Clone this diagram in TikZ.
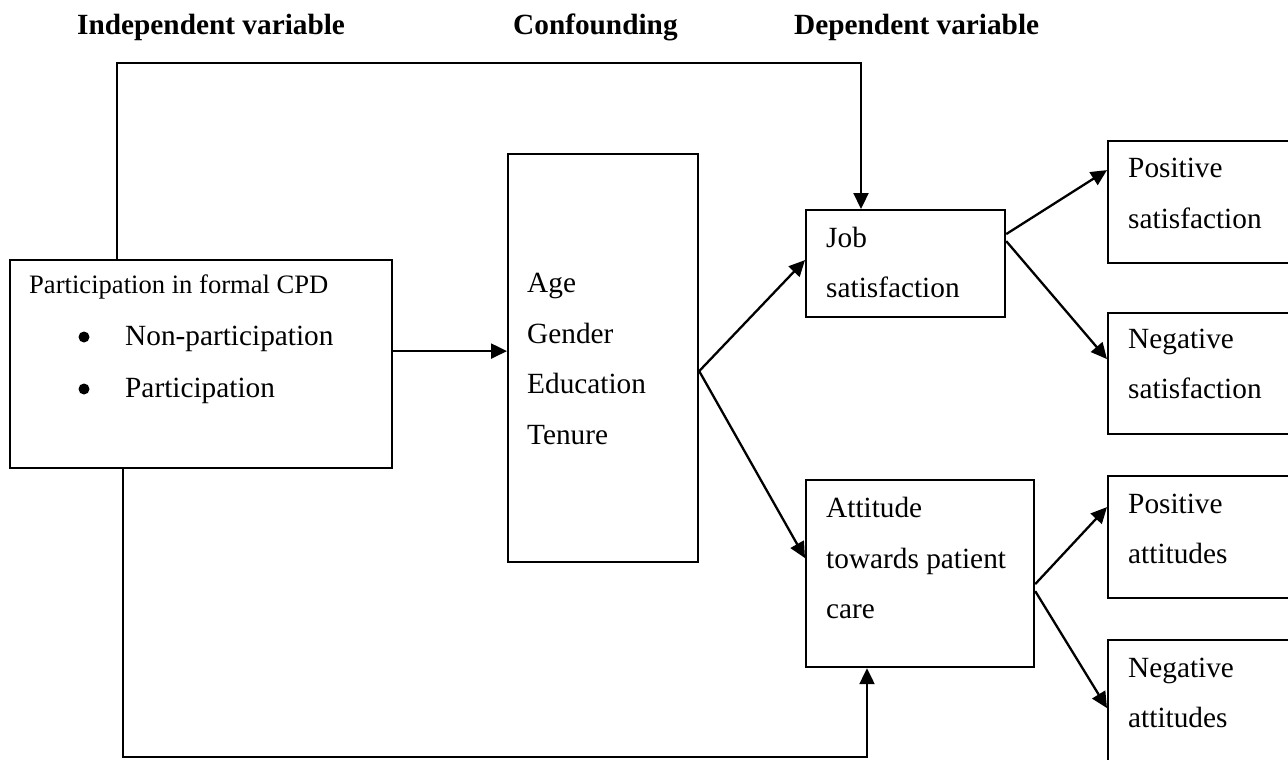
\documentclass[tikz,border=0pt]{standalone}
\usepackage{fontspec}
\setmainfont{Liberation Serif}
\usetikzlibrary{arrows.meta}
\begin{document}
\begin{tikzpicture}[x=1pt,y=-1pt,
  box/.style={draw, line width=2.2pt, inner sep=0pt, anchor=north west},
  txt/.style={anchor=base west, inner sep=0pt, font=\fontsize{29.3}{34}\selectfont},
  smalltxt/.style={anchor=base west, inner sep=0pt, font=\fontsize{26.6}{32}\selectfont},
  hdr/.style={anchor=base west, inner sep=0pt, font=\bfseries\fontsize{29.3}{34}\selectfont},
  bul/.style={circle, fill=black, inner sep=0pt, minimum size=11pt},
  arr/.style={line width=2.3pt, -{Triangle[length=16pt,width=15pt]}},
  conn/.style={line width=2.3pt}]
\useasboundingbox (0,0) rectangle (1288,760);
\clip (0,0) rectangle (1288,760);
\fill[white] (0,0) rectangle (1288,760);

% headers
\node[hdr] (h1) at (77,35) {Independent variable};
\node[hdr] (h2) at (513,35) {Confounding};
\node[hdr] (h3) at (794,35) {Dependent variable};

% boxes
\node[box, minimum width=382.5pt, minimum height=208pt] (lb) at (8.5,259) {};
\node[box, minimum width=190pt, minimum height=408pt] (conf) at (507,153) {};
\node[box, minimum width=199pt, minimum height=107pt] (job) at (805,209) {};
\node[box, minimum width=228pt, minimum height=187pt] (att) at (805,479) {};
\node[box, minimum width=220pt, minimum height=122pt] (ps) at (1107,140) {};
\node[box, minimum width=220pt, minimum height=121pt] (ns) at (1107,312) {};
\node[box, minimum width=220pt, minimum height=122pt] (pa) at (1107,475) {};
\node[box, minimum width=220pt, minimum height=122pt] (na) at (1107,639) {};

% texts
\node[smalltxt] (lb0) at (29,293) {Participation in formal CPD};
\node[bul] (b1) at (84,337) {};
\node[txt] (lb1) at (125,345) {Non-participation};
\node[bul] (b2) at (84,389) {};
\node[txt] (lb2) at (125,397) {Participation};

\node[txt] (c1t) at (527,292) {Age};
\node[txt] (c2t) at (527,343) {Gender};
\node[txt] (c3t) at (527,393) {Education};
\node[txt] (c4t) at (527,444) {Tenure};

\node[txt] (j1) at (826,247) {Job};
\node[txt] (j2) at (826,297) {satisfaction};

\node[txt] (a1) at (826,517) {Attitude};
\node[txt] (a2) at (826,568) {towards patient};
\node[txt] (a3) at (826,618) {care};

\node[txt] (ps1) at (1128,177) {Positive};
\node[txt] (ps2) at (1128,228) {satisfaction};
\node[txt] (ns1) at (1128,348) {Negative};
\node[txt] (ns2) at (1128,398) {satisfaction};
\node[txt] (pa1) at (1128,513) {Positive};
\node[txt] (pa2) at (1128,563) {attitudes};
\node[txt] (na1) at (1128,677) {Negative};
\node[txt] (na2) at (1128,727) {attitudes};

% corner coordinates
\coordinate (k1) at (117,63);
\coordinate (k2) at (861,63);
\coordinate (k3) at (123,757);
\coordinate (k4) at (867,757);
\coordinate (m) at ([yshift=13pt]lb.east);

% connectors
\draw[arr] (lb.north -| k1) -- (k1) -- (k2) -- (job.north -| k2);
\draw[arr] (lb.south -| k3) -- (k3) -- (k4) -- (att.south -| k4);
\draw[arr] (m) -- (m -| conf.west);
\draw[arr] ([yshift=-13pt]conf.east) -- ([yshift=3.5pt]job.west);
\draw[arr] ([yshift=-13pt]conf.east) -- ([yshift=15.5pt]att.west);
\draw[arr] ([yshift=29.5pt]job.east) -- ([yshift=32pt]ps.west);
\draw[arr] ([yshift=22.5pt]job.east) -- ([yshift=14.5pt]ns.west);
\draw[arr] ([yshift=-10.5pt]att.east) -- ([yshift=30pt]pa.west);
\draw[arr] ([yshift=-17.5pt]att.east) -- ([yshift=-7pt]na.west);
\end{tikzpicture}
\end{document}
